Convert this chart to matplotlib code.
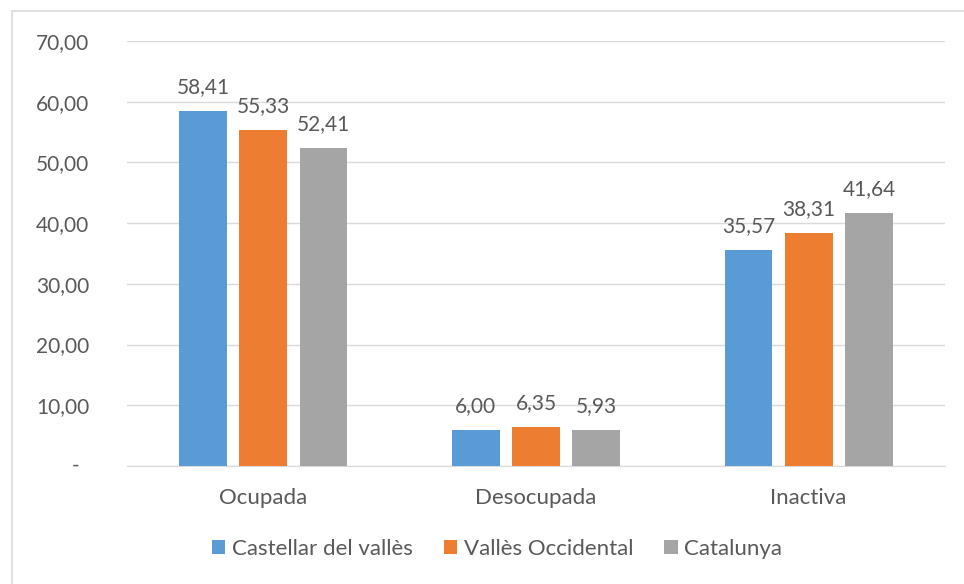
import matplotlib
matplotlib.use("Agg")
import matplotlib.pyplot as plt
import numpy as np
from matplotlib.patches import Rectangle
from matplotlib.transforms import blended_transform_factory

categories = ["Ocupada", "Desocupada", "Inactiva"]
series_names = ["Castellar del vallès", "Vallès Occidental", "Catalunya"]
castellar = [58.41, 6.00, 35.57]
valles = [55.33, 6.35, 38.31]
catalunya = [52.41, 5.93, 41.64]
yticks = [0, 10, 20, 30, 40, 50, 60, 70]

colors = ["#5B9BD5", "#ED7D31", "#A5A5A5"]
txt = "#595959"
plt.rcParams['font.family'] = ['Lato', 'DejaVu Sans']

fig = plt.figure(figsize=(9.64, 5.84), dpi=100)
fig.patches.append(Rectangle((12/964, -0.1), 1.2, 1 - 11/584 + 0.1, transform=fig.transFigure,
                             fill=False, edgecolor="#D9D9D9", linewidth=1.2))
ax = fig.add_axes([127/964, 1 - 466/584, (945 - 127)/964, (466 - 41)/584])

x = np.arange(len(categories))
w = 0.175
step = 0.221
for i, (vals, name) in enumerate(zip([castellar, valles, catalunya], series_names)):
    pos = x + (i - 1) * step
    ax.bar(pos, vals, width=w, color=colors[i], label=name, zorder=3)
    for p, v in zip(pos, vals):
        ax.annotate(f"{v:.2f}".replace(".", ","), (p, v), xytext=(0, 10), textcoords="offset points",
                    ha="center", va="bottom", fontsize=15, color=txt)

ax.set_xlim(-0.5, 2.5)
ax.set_ylim(0, 70)
ax.set_yticks(yticks)
ax.set_yticklabels(["" if t == 0 else f"{t:.2f}".replace(".", ",") for t in yticks])
ax.set_xticks(x)
ax.set_xticklabels(categories, fontsize=16)
ax.tick_params(axis="both", length=0, colors=txt)
ax.tick_params(axis="y", pad=27, labelsize=15)
ax.tick_params(axis="x", pad=16)
# zero label drawn as centered dash
tr = blended_transform_factory(fig.transFigure, ax.transData)
ax.text(76/964, 0, "-", transform=tr, ha="center", va="center", fontsize=15, color=txt)
ax.grid(axis="y", color="#D9D9D9", linewidth=1, zorder=0)
for s in ["top", "right", "left"]:
    ax.spines[s].set_visible(False)
ax.spines["bottom"].set_color("#D9D9D9")
ax.set_axisbelow(True)

fig.legend(loc="center", bbox_to_anchor=(497/964, 1 - 549/584), ncol=3, frameon=False,
           fontsize=16, handlelength=0.6, handleheight=0.6, handletextpad=0.3,
           columnspacing=1.4, labelcolor=txt)

fig.savefig("out.png", dpi=100)
